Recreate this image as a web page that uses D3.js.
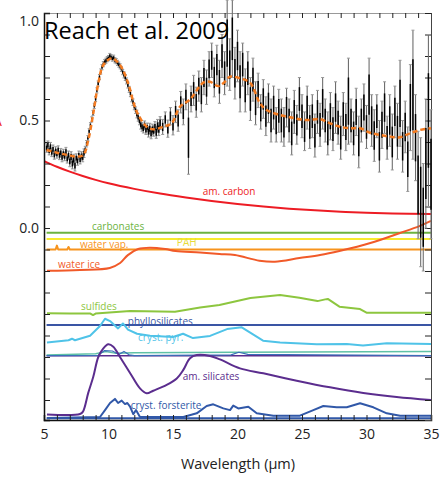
<html>
<head>
<title>Reach et al. 2009 - spectrum decomposition</title>
<script src="https://d3js.org/d3.v7.min.js"></script>
<style>
body { margin: 0; background: #fff; }
text { font-family: 'Open Sans', 'Noto Sans', sans-serif; }
</style>
</head>
<body>
<div id="chart"></div>
<script>

// ---- data ----
var xTicks = [5, 10, 15, 20, 25, 30, 35];
var yTickLabels = [1.0, 0.5, 0.0];

// observed spectrum: [wavelength, flux, error]
var slSpec = [
  [5.2,.372,.02],[5.3,.385,.02],[5.4,.360,.02],[5.5,.378,.02],[5.6,.352,.02],[5.7,.366,.02],
  [5.8,.340,.02],[5.9,.358,.02],[6.0,.345,.02],[6.1,.362,.02],[6.2,.338,.02],[6.3,.350,.02],
  [6.4,.328,.02],[6.5,.346,.02],[6.6,.333,.02],[6.7,.355,.02],[6.8,.322,.02],[6.9,.338,.02],
  [7.0,.310,.025],[7.1,.330,.025],[7.2,.300,.025],[7.3,.318,.025],[7.4,.290,.025],[7.5,.325,.02],
  [7.6,.312,.02],[7.7,.338,.02],[7.8,.318,.02],[7.9,.335,.02],[8.0,.328,.02],[8.1,.348,.02],
  [8.2,.365,.015],[8.3,.392,.015],[8.4,.418,.012],[8.5,.450,.012],[8.6,.478,.012],[8.7,.505,.012],
  [8.8,.535,.012],[8.9,.568,.012],[9.0,.600,.012],[9.1,.640,.012],[9.2,.672,.012],[9.3,.702,.012],
  [9.4,.728,.012],[9.5,.748,.012],[9.6,.762,.012],[9.7,.772,.012],[9.8,.778,.012],[9.9,.785,.012],
  [10.0,.790,.012],[10.1,.800,.012],[10.2,.795,.012],[10.3,.788,.012],[10.4,.792,.012],[10.5,.780,.012],
  [10.6,.776,.012],[10.7,.768,.012],[10.8,.760,.012],[10.9,.752,.012],[11.0,.740,.012],[11.1,.725,.012],
  [11.2,.712,.014],[11.3,.700,.014],[11.4,.684,.014],[11.5,.665,.014],[11.6,.645,.014],[11.7,.625,.014],
  [11.8,.602,.015],[11.9,.585,.015],[12.0,.565,.015],[12.1,.548,.015],[12.2,.530,.018],[12.3,.515,.018],
  [12.4,.498,.018],[12.5,.480,.02],[12.6,.470,.02],[12.7,.462,.02],[12.8,.478,.02],[12.9,.455,.02],
  [13.0,.468,.02],[13.1,.448,.025],[13.2,.462,.025],[13.3,.440,.025],[13.4,.458,.025],[13.5,.452,.025],
  [13.6,.470,.025],[13.7,.445,.028],[13.8,.475,.03],[13.9,.460,.03],[14.0,.488,.03]
];
var llSpec = [
  [14.2,.470,.035],[14.4,.505,.035],[14.6,.462,.04],[14.8,.520,.04],[15.0,.478,.045],[15.2,.540,.05],
  [15.4,.500,.05],[15.6,.585,.05],[15.8,.540,.06],[16.0,.610,.06],[16.2,.420,.17],[16.4,.600,.06],
  [16.6,.640,.07],[16.8,.585,.07],[17.0,.660,.07],[17.2,.620,.08],[17.4,.700,.08],[17.6,.655,.08],
  [17.8,.740,.08],[18.0,.780,.08],[18.2,.700,.09],[18.4,.760,.09],[18.6,.680,.1],[18.8,.800,.1],
  [19.0,.720,.1],[19.2,.860,.2],[19.4,.760,.12],[19.6,.880,.18],[19.8,.720,.12],[20.0,.800,.12],
  [20.2,.680,.14],[20.4,.760,.1],[20.6,.640,.1],[20.8,.720,.1],[21.0,.600,.1],[21.2,.690,.1],
  [21.4,.580,.1],[21.6,.640,.08],[21.8,.540,.08],[22.0,.600,.09],[22.2,.520,.09],[22.4,.580,.09],
  [22.6,.500,.1],[22.8,.560,.1],[23.0,.480,.08],[23.2,.545,.1],[23.4,.500,.1],[23.6,.470,.09],
  [23.8,.560,.09],[24.0,.500,.1],[24.2,.440,.1],[24.4,.540,.1],[24.6,.480,.09],[24.8,.600,.1],
  [25.0,.520,.1],[25.2,.450,.09],[25.4,.560,.1],[25.6,.470,.1],[25.8,.520,.1],[26.0,.430,.1],
  [26.2,.540,.1],[26.4,.480,.1],[26.6,.580,.12],[26.8,.500,.1],[27.0,.440,.1],[27.2,.520,.11],
  [27.4,.460,.1],[27.6,.560,.12],[27.8,.490,.1],[28.0,.420,.1],[28.2,.530,.1],[28.4,.470,.11],
  [28.6,.590,.2],[28.8,.500,.1],[29.0,.440,.1],[29.2,.540,.11],[29.4,.400,.12],[29.6,.500,.1],
  [29.8,.560,.11],[30.0,.470,.1],[30.2,.620,.17],[30.4,.500,.12],[30.6,.430,.12],[30.8,.520,.1],
  [31.0,.380,.12],[31.2,.480,.11],[31.4,.560,.12],[31.6,.420,.1],[31.8,.500,.12],[32.0,.400,.13],
  [32.2,.540,.12],[32.4,.450,.13],[32.6,.580,.2],[32.8,.380,.12],[33.0,.470,.12],[33.2,.320,.15],
  [33.4,.560,.2],[33.6,.620,.3],[33.8,.420,.2],[34.0,.200,.25],[34.2,.120,.3],[34.4,.050,.25],
  [34.6,.300,.3],[34.8,.500,.4],[35.0,.250,.3]
];

// model fit (orange dashed)
var model = [[5.2,.363],[6.0,.35],[6.8,.34],[7.5,.332],[8.05,.34],[8.43,.409],[8.82,.533],[9.21,.673],
  [9.6,.758],[10.25,.789],[10.89,.758],[11.53,.673],[11.92,.587],[12.31,.526],[12.96,.471],[13.47,.459],
  [14.25,.471],[14.9,.487],[15.54,.564],[16.32,.598],[17.35,.676],[17.87,.68],[18.51,.66],[18.9,.673],
  [19.42,.704],[20.19,.696],[20.97,.676],[21.74,.58],[22.26,.549],[23.04,.53],[24.07,.515],[25.36,.502],
  [26.4,.506],[27.17,.487],[27.95,.471],[28.72,.464],[29.5,.464],[30.27,.443],[31.05,.433],[31.82,.425],
  [32.6,.422],[33.37,.44],[34.15,.456],[35,.464]];

// components (offset)
var amCarbon = [[5.05,.31],[6,.285],[7,.262],[8,.242],[9,.224],[10,.208],[12,.182],[14,.16],[16,.142],
  [18,.126],[20,.112],[22,.1],[24,.09],[26,.082],[28,.076],[30,.071],[32,.068],[35,.065]];
var carbonates = [[5.2,-.022],[35,-.022]];
var pah = [[5.2,-.051],[35,-.051]];
var waterVap = [[5.2,-.1],[5.9,-.1],[6.0,-.082],[6.1,-.1],[6.8,-.1],[6.9,-.088],[7.0,-.1],[35,-.1]];
var waterIce = [[5.23,-.199],[7.8,-.195],[10.1,-.186],[10.9,-.163],[11.5,-.126],[12.3,-.098],[13.2,-.092],
  [14.4,-.098],[15.2,-.107],[17.1,-.114],[18.6,-.121],[19.8,-.126],[21.7,-.152],[22.9,-.157],[24.8,-.14],
  [26.4,-.126],[27.9,-.107],[30.3,-.07],[32.6,-.023],[34.1,.009],[35,.033]];
var sulfides = [[5.23,-.397],[7,-.398],[8.6,-.398],[8.8,-.405],[9,-.398],[11.67,-.386],[15.15,-.389],
  [17.1,-.37],[18.6,-.358],[21,-.326],[23.3,-.312],[24.8,-.324],[26.2,-.34],[26.8,-.332],[27,-.33],
  [27.9,-.366],[29.5,-.377],[30,-.394],[35,-.394]];
var phyllo = [[5.2,-.451],[35,-.451]];
var crystPyr = [[5.23,-.532],[6.9,-.522],[7.17,-.515],[7.4,-.522],[8.57,-.501],[9.34,-.456],[9.73,-.422],
  [10.12,-.433],[10.74,-.467],[11.12,-.444],[11.51,-.473],[12.21,-.492],[13.22,-.501],[15.0,-.507],
  [15.78,-.492],[16.55,-.512],[17.87,-.502],[19.19,-.47],[20.33,-.462],[21.98,-.524],[23.3,-.532],
  [26.14,-.541],[28.47,-.54],[29.73,-.547],[31.57,-.536],[35,-.54]];
var crystEns = [[5.2,-.591],[9,-.585],[9.8,-.575],[10.5,-.582],[12,-.58],[20,-.578],[35,-.574]];
var crystOther = [[5.2,-.594],[9.2,-.592],[9.7,-.57],[10.3,-.572],[10.8,-.588],[11.2,-.574],[11.6,-.59],
  [12,-.594],[19.5,-.59],[20.1,-.578],[20.8,-.588],[35,-.594]];
var silBase = [[5.2,-.594],[35,-.594]];
var amSil = [[5.23,-.867],[7.79,-.865],[8.02,-.854],[8.43,-.767],[8.82,-.692],[9.21,-.6],[9.6,-.56],
  [9.98,-.541],[10.37,-.552],[10.89,-.6],[11.67,-.674],[12.44,-.746],[12.96,-.769],[13.47,-.757],
  [14.51,-.73],[15.29,-.7],[15.8,-.66],[16.32,-.606],[16.84,-.591],[17.87,-.595],[18.64,-.611],
  [20.19,-.653],[22.0,-.676],[24.59,-.71],[27.17,-.741],[29.75,-.767],[32.34,-.786],[35,-.8]];
var forstBase = [[5.2,-.885],[35,-.885]];
var forsterite = [[5.23,-.884],[9.34,-.879],[9.73,-.847],[10.12,-.814],[10.5,-.795],[10.74,-.814],
  [11.02,-.803],[11.28,-.819],[11.46,-.814],[11.67,-.831],[11.92,-.866],[12.13,-.847],[12.44,-.879],
  [15.8,-.879],[16.84,-.862],[17.61,-.828],[18.12,-.82],[18.9,-.839],[19.42,-.847],[19.67,-.826],
  [20.06,-.839],[20.84,-.831],[21.49,-.862],[22.78,-.873],[24.84,-.873],[25.88,-.847],[26.65,-.828],
  [27.69,-.834],[28.47,-.834],[29.5,-.815],[30.53,-.834],[31.57,-.862],[32.6,-.873],[35,-.873]];

// ---- layout ----
var W = 445, H = 482;
var svg = d3.select("#chart").append("svg").attr("width", W).attr("height", H);

var x = d3.scaleLinear().domain([5, 35]).range([44, 431]);
var y = d3.scaleLinear().domain([-0.893, 1.0]).range([420, 13]);

var line = d3.line().x(function(d){ return x(d[0]); }).y(function(d){ return y(d[1]); });
var smooth = d3.line().curve(d3.curveCatmullRom).x(function(d){ return x(d[0]); }).y(function(d){ return y(d[1]); });

// component curves
var comps = [
  {d: amCarbon, c: "#ed1c24", w: 2, s: true},
  {d: carbonates, c: "#6cb33f", w: 2},
  {d: pah, c: "#f7ea2f", w: 2},
  {d: waterVap, c: "#f7941d", w: 2},
  {d: waterIce, c: "#f15a29", w: 2, s: true},
  {d: sulfides, c: "#8dc63f", w: 2},
  {d: phyllo, c: "#3a55a4", w: 2},
  {d: crystPyr, c: "#4fc3e8", w: 2},
  {d: silBase, c: "#5b2d8e", w: 1.5},
  {d: crystEns, c: "#5fc1a6", w: 1.5},
  {d: crystOther, c: "#3a6fb8", w: 1.2},
  {d: amSil, c: "#5b2d8e", w: 2, s: true},
  {d: forstBase, c: "#3158a8", w: 2},
  {d: forsterite, c: "#3158a8", w: 2}
];
var gc = svg.append("g").attr("class", "components");
comps.forEach(function(k){
  gc.append("path").attr("d", (k.s ? smooth : line)(k.d))
    .attr("fill", "none").attr("stroke", k.c).attr("stroke-width", k.w)
    .attr("stroke-linejoin", "round");
});

// component labels
var labels = [
  {t: "am. carbon", w: 17.3, v: .153, c: "#ed1c24"},
  {t: "carbonates", w: 8.72, v: -.01, c: "#6cb33f"},
  {t: "PAH", w: 15.3, v: -.085, c: "#e8dc3a"},
  {t: "water vap.", w: 7.79, v: -.094, c: "#f7941d"},
  {t: "water ice", w: 6.09, v: -.184, c: "#f15a29"},
  {t: "sulfides", w: 7.87, v: -.383, c: "#8dc63f"},
  {t: "phyllosilicates", w: 11.5, v: -.449, c: "#3a55a4"},
  {t: "cryst. pyr.", w: 12.29, v: -.526, c: "#4fc3e8"},
  {t: "am. silicates", w: 15.75, v: -.709, c: "#5b2d8e"},
  {t: "cryst. forsterite", w: 11.72, v: -.84, c: "#3158a8"}
];
svg.append("g").selectAll("text").data(labels).enter().append("text")
  .attr("x", function(d){ return x(d.w); })
  .attr("y", function(d){ return y(d.v); })
  .attr("fill", function(d){ return d.c; })
  .attr("font-size", "10px")
  .text(function(d){ return d.t; });

// axes
var gx = svg.append("g").attr("transform", "translate(0,420)")
  .call(d3.axisBottom(x).tickValues(d3.range(5, 36, 1)).tickSize(-5).tickPadding(9)
    .tickFormat(function(d){ return xTicks.indexOf(d) >= 0 ? d : ""; }));
var gt = svg.append("g").attr("transform", "translate(0,13)")
  .call(d3.axisTop(x).tickValues(d3.range(5, 36, 1)).tickSize(-5).tickFormat(""));
var yMinor = d3.range(-8, 11).map(function(i){ return i / 10; });
var gy = svg.append("g").attr("transform", "translate(44,0)")
  .call(d3.axisLeft(y).tickValues(yMinor).tickSize(-6).tickPadding(5)
    .tickFormat(function(d){ return yTickLabels.indexOf(Math.round(d*10)/10) >= 0 ? d3.format(".1f")(d) : ""; }));
var gr = svg.append("g").attr("transform", "translate(431,0)")
  .call(d3.axisRight(y).tickValues(yMinor).tickSize(-6).tickFormat(""));

[gx, gt, gy, gr].forEach(function(g){
  g.selectAll("text").attr("font-family", "'Open Sans', sans-serif").attr("font-size", "14px").attr("fill", "#222");
  g.selectAll("line").attr("stroke", "#222");
});
gt.select(".domain").attr("stroke", "#999");
gx.select(".domain").attr("stroke-width", 1.5).attr("stroke", "#111");
gy.select(".domain").attr("stroke-width", 1.5).attr("stroke", "#111");
gr.select(".domain").attr("stroke", "#444");
// top label sits a little lower than its tick
gy.selectAll(".tick text").filter(function(d){ return d === 1.0; }).attr("dy", "0.9em");

svg.append("text").attr("x", 238).attr("y", 469).attr("text-anchor", "middle")
  .attr("font-size", "14.5px").attr("fill", "#222").text("Wavelength (\u00b5m)");

// spectrum with error bars
var spec = slSpec.concat(llSpec);
var gs = svg.append("g").attr("class", "spectrum");
gs.selectAll(".err").data(spec).enter().append("line")
  .attr("x1", function(d){ return x(d[0]); }).attr("x2", function(d){ return x(d[0]); })
  .attr("y1", function(d){ return y(d[1] - d[2]); }).attr("y2", function(d){ return y(d[1] + d[2]); })
  .attr("stroke", "#6e6e6e").attr("stroke-width", 1.1);
gs.selectAll(".cap").data(spec.concat(spec)).enter().append("line")
  .attr("x1", function(d){ return x(d[0]) - 1.5; }).attr("x2", function(d){ return x(d[0]) + 1.5; })
  .attr("y1", function(d, i){ return y(d[1] + (i < spec.length ? d[2] : -d[2])); })
  .attr("y2", function(d, i){ return y(d[1] + (i < spec.length ? d[2] : -d[2])); })
  .attr("stroke", "#999").attr("stroke-width", 1);
gs.selectAll(".core").data(spec).enter().append("line")
  .attr("x1", function(d){ return x(d[0]); }).attr("x2", function(d){ return x(d[0]); })
  .attr("y1", function(d){ return y(d[1] - d[2] * 0.55); }).attr("y2", function(d){ return y(d[1] + d[2] * 0.55); })
  .attr("stroke", "#000").attr("stroke-width", 1.5);

// model
svg.append("path").attr("d", smooth(model))
  .attr("fill", "none").attr("stroke", "#f47b20").attr("stroke-width", 2.5)
  .attr("stroke-dasharray", "5,3");

// title
svg.append("text").attr("x", 44).attr("y", 39)
  .attr("font-family", "'Liberation Sans', Arial, sans-serif").attr("font-size", "23.5px").attr("fill", "#000")
  .text("Reach et al. 2009");

// red glyph cut off at the left edge, as in the source figure
svg.append("text").attr("x", -7).attr("y", 126).attr("font-size", "14px").attr("fill", "#ed1c24").text("A");

</script>
</body>
</html>
